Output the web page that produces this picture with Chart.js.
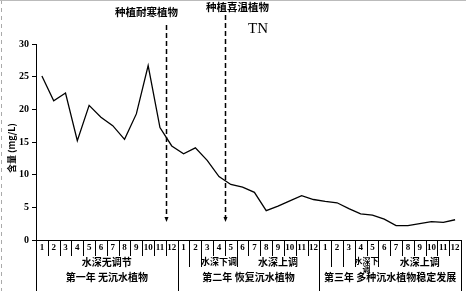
<!DOCTYPE html>
<html>
<head>
<meta charset="utf-8">
<script src="https://cdn.jsdelivr.net/npm/chart.js@4/dist/chart.umd.min.js"></script>
<style>
  html, body { margin: 0; padding: 0; background: #fff; }
  canvas { display: block; }
</style>
</head>
<body>
<canvas id="tnChart" width="466" height="291"></canvas>
<script>
// months of the three years
const months = ['1','2','3','4','5','6','7','8','9','10','11','12',
                '1','2','3','4','5','6','7','8','9','10','11','12',
                '1','2','3','4','5','6','7','8','9','10','11','12'];

// TN (mg/L)
const tnValues = [25.1, 21.3, 22.5, 15.2, 20.6, 18.8, 17.5, 15.4, 19.3, 26.7, 17.2, 14.4,
                  13.2, 14.1, 12.2, 9.7, 8.5, 8.1, 7.3, 4.5, 5.2, 6.0, 6.8, 6.2,
                  5.9, 5.7, 4.8, 4.0, 3.8, 3.2, 2.2, 2.2, 2.5, 2.8, 2.7, 3.1];

// second label row: water level regime, with number of months each covers
const phaseNames = ['水深无调节', '', '', '水深下调', '水深上调', '', '', '', '水深下调', '水深上调'];
const phaseSpans = [12, 1, 1, 3, 7, 1, 1, 1, 2, 7];

// third label row
const yearNames = ['第一年 无沉水植物', '第二年 恢复沉水植物', '第三年 多种沉水植物稳定发展'];

// planting events: label and the month index they come before
const eventNames = ['种植耐寒植物', '种植喜温植物'];
const eventBefore = [11, 16];

const yTicks = [0, 5, 10, 15, 20, 25, 30];

const cjk = '"Noto Sans CJK SC", sans-serif';

const categoryRows = {
    id: 'categoryRows',
    afterDraw(chart) {
        const { ctx, chartArea: a, scales: { x } } = chart;
        const w = x.getPixelForValue(1) - x.getPixelForValue(0);
        const edge = i => x.getPixelForValue(i) - w / 2;
        const bottom = chart.height;

        // boundaries between phase cells
        const phaseBreaks = [];
        let acc = 0;
        phaseSpans.forEach(s => { acc += s; phaseBreaks.push(acc); });

        ctx.save();
        ctx.strokeStyle = '#000';
        ctx.lineWidth = 1;
        ctx.beginPath();
        for (let b = 0; b <= months.length; b++) {
            const px = Math.round(edge(b)) + 0.5;
            let y2 = a.bottom + 16;
            if (b % 12 === 0) y2 = bottom;
            else if (phaseBreaks.includes(b)) y2 = a.bottom + 27;
            ctx.moveTo(px, a.bottom);
            ctx.lineTo(px, y2);
        }
        ctx.stroke();

        // month numbers
        ctx.fillStyle = '#000';
        ctx.textAlign = 'center';
        ctx.textBaseline = 'middle';
        ctx.font = 'bold 9px "Liberation Serif", serif';
        months.forEach((m, i) => ctx.fillText(m, x.getPixelForValue(i), a.bottom + 8));

        // phase row
        let start = 0;
        phaseNames.forEach((name, k) => {
            const span = phaseSpans[k];
            if (name) {
                const cx = (edge(start) + edge(start + span)) / 2;
                const room = span * w;
                ctx.font = 'bold 10px ' + cjk;
                if (ctx.measureText(name).width <= room) {
                    ctx.fillText(name, cx, a.bottom + 22);
                } else if (span > 2) {
                    ctx.font = 'bold 9px ' + cjk;
                    ctx.fillText(name, cx, a.bottom + 22);
                } else {
                    ctx.font = 'bold 8px ' + cjk;
                    ctx.fillText(name.slice(0, 3), cx, a.bottom + 21);
                    ctx.fillText(name.slice(3), cx, a.bottom + 29);
                }
            }
            start += span;
        });

        // year row
        ctx.font = 'bold 10px ' + cjk;
        yearNames.forEach((name, k) => {
            const cx = (edge(k * 12) + edge(k * 12 + 12)) / 2;
            ctx.fillText(name, cx, a.bottom + 37);
        });

        // y axis runs down through the label rows
        ctx.beginPath();
        ctx.moveTo(Math.round(a.left) + 0.5, a.bottom);
        ctx.lineTo(Math.round(a.left) + 0.5, bottom);
        ctx.stroke();

        // y title
        ctx.save();
        ctx.translate(12, (a.top + a.bottom) / 2 + 6);
        ctx.rotate(-Math.PI / 2);
        ctx.font = 'bold 9px ' + cjk;
        ctx.fillText('含量 (mg/L)', 0, 0);
        ctx.restore();

        // planting events
        const tops = [25, 15];
        const textY = [12, 7];
        eventNames.forEach((name, k) => {
            const px = Math.round(edge(eventBefore[k])) + 0.5;
            const yEnd = a.bottom - 18;
            ctx.setLineDash([5, 3]);
            ctx.lineWidth = 1.5;
            ctx.beginPath();
            ctx.moveTo(px, tops[k]);
            ctx.lineTo(px, yEnd - 4);
            ctx.stroke();
            ctx.setLineDash([]);
            ctx.beginPath();
            ctx.moveTo(px - 2, yEnd - 5);
            ctx.lineTo(px + 2, yEnd - 5);
            ctx.lineTo(px, yEnd);
            ctx.closePath();
            ctx.fill();
            ctx.font = 'bold 10.5px ' + cjk;
            ctx.fillText(name, px - (k === 0 ? 20 : -12), textY[k]);
        });

        // series name
        ctx.font = '15px "Liberation Serif", serif';
        ctx.fillText('TN', 258, 29);

        // faint scan border
        ctx.strokeStyle = '#aaa';
        ctx.lineWidth = 1;
        ctx.setLineDash([4, 4]);
        ctx.beginPath();
        ctx.moveTo(1.5, 0);
        ctx.lineTo(1.5, bottom);
        ctx.stroke();
        ctx.setLineDash([]);
        ctx.strokeStyle = '#bbb';
        ctx.beginPath();
        ctx.moveTo(0, 0.5);
        ctx.lineTo(chart.width, 0.5);
        ctx.stroke();
        ctx.restore();
    }
};

new Chart(document.getElementById('tnChart'), {
    type: 'line',
    data: {
        labels: months.map((m, i) => i),
        datasets: [{
            label: 'TN',
            data: tnValues,
            borderColor: '#000',
            borderWidth: 1.3,
            pointRadius: 0,
            tension: 0,
            fill: false
        }]
    },
    options: {
        responsive: false,
        animation: false,
        layout: { padding: { top: 44, right: 5, left: 0, bottom: 0 } },
        plugins: {
            legend: { display: false },
            tooltip: { enabled: false }
        },
        scales: {
            x: {
                type: 'category',
                offset: true,
                grid: { display: false, drawTicks: false },
                ticks: { display: false },
                border: { color: '#000', width: 1 },
                afterFit: s => { s.height = 51; }
            },
            y: {
                min: yTicks[0],
                max: yTicks[yTicks.length - 1],
                afterBuildTicks: s => { s.ticks = yTicks.map(v => ({ value: v })); },
                ticks: {
                    color: '#000',
                    padding: 3,
                    font: { family: '"Liberation Serif", serif', size: 10, weight: 'bold' }
                },
                grid: { drawOnChartArea: false, tickLength: 4, color: '#000' },
                border: { color: '#000', width: 1 },
                afterFit: s => { s.width = 36; }
            }
        }
    },
    plugins: [categoryRows]
});
</script>
</body>
</html>
